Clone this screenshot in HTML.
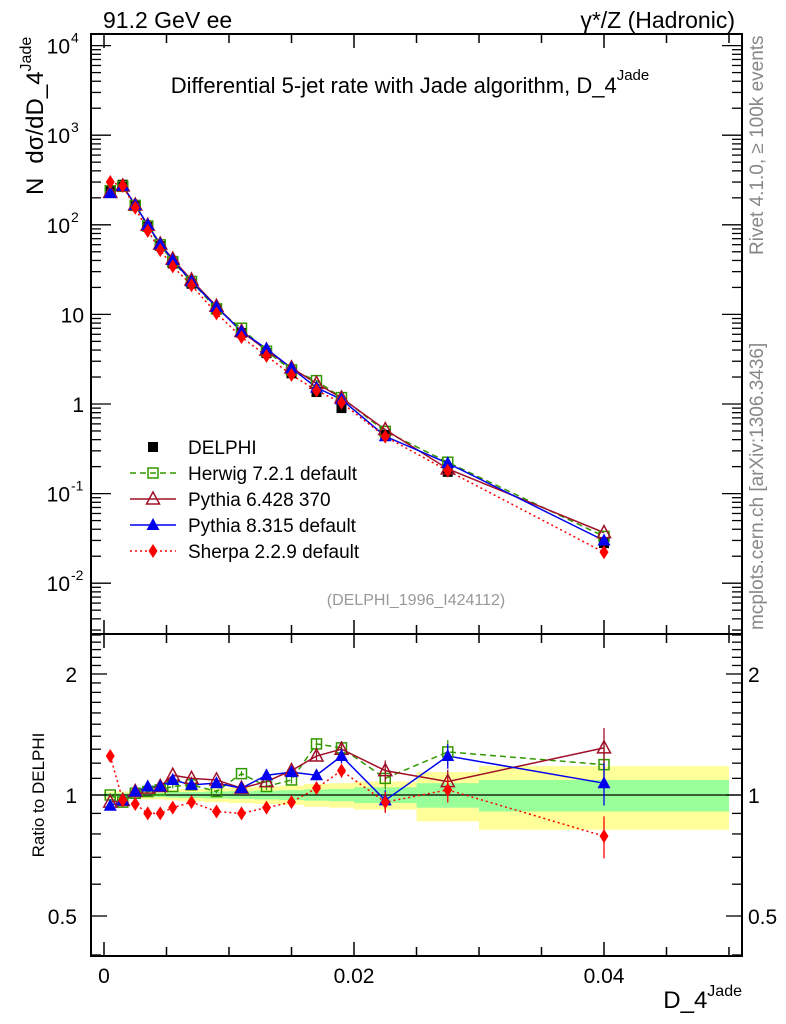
<!DOCTYPE html>
<html><head><meta charset="utf-8">
<style>
html,body{margin:0;padding:0;background:#fff;}
svg{display:block;font-family:"Liberation Sans",sans-serif;}
</style></head>
<body>
<svg id="chart" width="786" height="1024" viewBox="0 0 786 1024">
  <text x="103" y="28" font-size="23">91.2 GeV ee</text>
  <text x="735" y="28" font-size="23" text-anchor="end">γ*/Z (Hadronic)</text>
  <text x="410" y="93" font-size="22" text-anchor="middle">Differential 5-jet rate with Jade algorithm, D_4<tspan dy="-13" font-size="15">Jade</tspan></text>
  <text transform="translate(43,195) rotate(-90)" font-size="24">N<tspan dx="14">dσ/dD_4</tspan><tspan dy="-12" font-size="16">Jade</tspan></text>
  <text transform="translate(44,795) rotate(-90)" font-size="17" text-anchor="middle">Ratio to DELPHI</text>
  <text transform="translate(763,255) rotate(-90)" font-size="19" fill="#888">Rivet 4.1.0, ≥ 100k events</text>
  <text transform="translate(763,630) rotate(-90)" font-size="19" fill="#888">mcplots.cern.ch [arXiv:1306.3436]</text>
  <text x="742" y="1008" font-size="24" text-anchor="end">D_4<tspan dy="-12" font-size="16">Jade</tspan></text>
  <text x="416" y="605" font-size="16" fill="#999" text-anchor="middle">(DELPHI_1996_I424112)</text>
  <g id="bands"></g>
  <g id="marks"></g>
  <g id="axes"></g>
  <g id="legend"></g>
</svg>
<script>
const binLo = [0,0.001,0.002,0.003,0.004,0.005,0.006,0.008,0.010,0.012,0.014,0.016,0.018,0.020,0.025,0.030];
const binHi = [0.001,0.002,0.003,0.004,0.005,0.006,0.008,0.010,0.012,0.014,0.016,0.018,0.020,0.025,0.030,0.050];
const xVals = [0.0005,0.0015,0.0025,0.0035,0.0045,0.0055,0.007,0.009,0.011,0.013,0.015,0.017,0.019,0.0225,0.0275,0.04];
const delphi = [240,280,163,95,58,37,22,11.3,6.2,3.7,2.2,1.36,0.9,0.45,0.175,0.028];
const yellowErr = [0.02,0.02,0.02,0.025,0.025,0.03,0.035,0.04,0.045,0.05,0.055,0.065,0.07,0.08,0.14,0.18];
const greenErr = [0.01,0.01,0.01,0.012,0.012,0.015,0.017,0.02,0.022,0.025,0.028,0.032,0.035,0.045,0.07,0.09];
const herwigR = [1.0,0.96,1.01,1.02,1.03,1.05,1.06,1.02,1.13,1.05,1.09,1.34,1.31,1.10,1.28,1.19];
const pythia6R = [0.96,0.97,1.02,1.04,1.05,1.12,1.10,1.09,1.04,1.08,1.15,1.25,1.30,1.15,1.08,1.31];
const pythia8R = [0.94,0.97,1.02,1.05,1.05,1.09,1.06,1.07,1.04,1.12,1.14,1.12,1.25,0.97,1.25,1.07];
const sherpaR = [1.25,0.97,0.95,0.90,0.90,0.93,0.96,0.91,0.90,0.93,0.96,1.04,1.15,0.96,1.03,0.79];
const mcErr = [0.01,0.01,0.01,0.01,0.01,0.01,0.01,0.01,0.015,0.02,0.02,0.03,0.04,0.06,0.07,0.12];
const xTicks = [0,0.02,0.04];
const xTickLabels = ["0","0.02","0.04"];
const yTicks = [-2,-1,0,1,2,3,4];
const yTickLabels = [["10","-2"],["10","-1"],["1",""],["10",""],["10","2"],["10","3"],["10","4"]];
const rTicks = [0.5,1,2];
const rTickLabels = ["0.5","1","2"];

const NS="http://www.w3.org/2000/svg";
const L=91,R=742,T=34,MB=634,RB=956;
const X=v=>104+v*12500;
const Y=v=>404-Math.log10(v)*89.6;
const YR=v=>795-Math.log10(v)*402;
function mk(tag,attrs,parent){const e=document.createElementNS(NS,tag);for(const k in attrs)e.setAttribute(k,attrs[k]);parent.appendChild(e);return e;}
const bands=document.getElementById('bands'),marks=document.getElementById('marks'),axes=document.getElementById('axes'),legend=document.getElementById('legend');

for(let i=0;i<binLo.length;i++){
  const y=mk('rect',{x:X(binLo[i]),y:YR(1+yellowErr[i]),width:X(binHi[i])-X(binLo[i]),height:YR(1-yellowErr[i])-YR(1+yellowErr[i]),fill:'#ffff99'},bands);
  
  
  const g=mk('rect',{x:X(binLo[i]),y:YR(1+greenErr[i]),width:X(binHi[i])-X(binLo[i]),height:YR(1-greenErr[i])-YR(1+greenErr[i]),fill:'#99ff99'},bands);
  
  
}
const ref=mk('line',{x1:L,x2:R,y1:YR(1),y2:YR(1),stroke:'#000','stroke-width':1.2},bands);



function marker(type,cx,cy,color,parent){
  let e;
  if(type==='sq') e=mk('rect',{x:cx-5,y:cy-5,width:10,height:10,fill:'none',stroke:color,'stroke-width':1.5},parent);
  else if(type==='fsq') e=mk('rect',{x:cx-5,y:cy-5,width:10,height:10,fill:color},parent);
  else if(type==='tri') e=mk('polygon',{points:`${cx},${cy-7} ${cx-6.5},${cy+5} ${cx+6.5},${cy+5}`,fill:'none',stroke:color,'stroke-width':1.5},parent);
  else if(type==='ftri') e=mk('polygon',{points:`${cx},${cy-7} ${cx-6.5},${cy+5} ${cx+6.5},${cy+5}`,fill:color},parent);
  else e=mk('polygon',{points:`${cx},${cy-7} ${cx-4.5},${cy} ${cx},${cy+7} ${cx+4.5},${cy}`,fill:color},parent);
  return e;
}
const series=[
 {name:'herwig',label:'Herwig 7.2.1 default',r:herwigR,color:'#339900',dash:'6,4',m:'sq'},
 {name:'pythia6',label:'Pythia 6.428 370',r:pythia6R,color:'#a0102a',dash:'',m:'tri'},
 {name:'pythia8',label:'Pythia 8.315 default',r:pythia8R,color:'#0000ee',dash:'',m:'ftri'},
 {name:'sherpa',label:'Sherpa 2.2.9 default',r:sherpaR,color:'#ff0000',dash:'2,3',m:'dia'}
];
series.forEach(s=>{
  const ptsM=xVals.map((x,i)=>`${X(x)},${Y(delphi[i]*s.r[i])}`).join(' ');
  const lm=mk('polyline',{points:ptsM,fill:'none',stroke:s.color,'stroke-width':1.5,'stroke-dasharray':s.dash},marks);
  
  
  const ptsR=xVals.map((x,i)=>`${X(x)},${YR(s.r[i])}`).join(' ');
  const lr=mk('polyline',{points:ptsR,fill:'none',stroke:s.color,'stroke-width':1.5,'stroke-dasharray':s.dash},marks);
  
  
});
xVals.forEach((x,i)=>{
  const d=marker('fsq',X(x),Y(delphi[i]),'#000',marks);
  
  
});
series.forEach(s=>{
  xVals.forEach((x,i)=>{
    const e=mk('line',{x1:X(x),x2:X(x),y1:YR(s.r[i]*(1+mcErr[i])),y2:YR(s.r[i]*(1-mcErr[i])),stroke:s.color,'stroke-width':1.3},marks);
    
    
    const m=marker(s.m,X(x),Y(delphi[i]*s.r[i]),s.color,marks);
    
    
    const mr=marker(s.m,X(x),YR(s.r[i]),s.color,marks);
    
    
  });
});

const f1=mk('rect',{x:L,y:T,width:R-L,height:MB-T,fill:'none',stroke:'#000','stroke-width':2},axes);


const f2=mk('rect',{x:L,y:MB,width:R-L,height:RB-MB,fill:'none',stroke:'#000','stroke-width':2},axes);


for(let k=0;k<=10;k++){
  const v=k*0.005,x=X(v),big=(k%4===0)?14:9;
  [[T,T+big],[MB,MB-big],[MB,MB+big],[RB,RB-big]].forEach(p=>{
    const t=mk('line',{x1:x,x2:x,y1:p[0],y2:p[1],stroke:'#000','stroke-width':1.5},axes);
    
    
  });
}
xTicks.forEach((v,i)=>{
  const t=mk('text',{x:X(v),y:983,'font-size':21,'text-anchor':'middle'},axes);
  t.textContent=xTickLabels[i];
  
  
});
for(let d=-3;d<=4;d++){
  for(let m=1;m<=9;m++){
    const v=m*Math.pow(10,d),y=Y(v);
    if(y<T||y>MB)continue;
    const len=m===1?20:10;
    [[L,L+len],[R,R-len]].forEach(p=>{
      const t=mk('line',{x1:p[0],x2:p[1],y1:y,y2:y,stroke:'#000','stroke-width':1.3},axes);
      
      
    });
  }
}
yTicks.forEach((d,i)=>{
  const t=mk('text',{x:yTickLabels[i][1]?70:84,y:Y(Math.pow(10,d))+8,'font-size':21,'text-anchor':'end'},axes);
  t.textContent=yTickLabels[i][0];
  
  
  if(yTickLabels[i][1]){
    const s=mk('text',{x:71,y:Y(Math.pow(10,d))-3,'font-size':14},axes);
    s.textContent=yTickLabels[i][1];
    
    
  }
});
[0.4,0.5,0.6,0.7,0.8,0.9,1,2].forEach(v=>{
  const y=YR(v),len=(v===0.5||v===1||v===2)?16:10;
  [[L,L+len],[R,R-len]].forEach(p=>{
    const t=mk('line',{x1:p[0],x2:p[1],y1:y,y2:y,stroke:'#000','stroke-width':1.3},axes);
    
    
  });
});
[1.1,1.2,1.3,1.4,1.5,1.6,1.7,1.8,1.9,2.1,2.2,2.3,2.4,2.5].forEach(v=>{
  const y=YR(v);
  [[L,L+10],[R,R-10]].forEach(p=>{
    const t=mk('line',{x1:p[0],x2:p[1],y1:y,y2:y,stroke:'#000','stroke-width':1.3},axes);
    
    
  });
});
rTicks.forEach((v,i)=>{
  const t=mk('text',{x:77,y:YR(v)+8,'font-size':21,'text-anchor':'end'},axes);
  t.textContent=rTickLabels[i];
  
  
  const t2=mk('text',{x:748,y:YR(v)+8,'font-size':21},axes);
  t2.textContent=rTickLabels[i];
  
  
});
const rows=[{label:'DELPHI',m:'fsq',color:'#000',dash:null}].concat(series);
rows.forEach((s,i)=>{
  const y=447+i*26;
  if(s.dash!==null&&s.dash!==undefined){
    const l=mk('line',{x1:130,x2:176,y1:y,y2:y,stroke:s.color,'stroke-width':1.5,'stroke-dasharray':s.dash},legend);
    
    
  }
  const m=marker(s.m,153,y,s.color,legend);
  
  
  const t=mk('text',{x:188,y:y+7,'font-size':19},legend);
  t.textContent=s.label;
  
  
});
</script>
</body></html>
